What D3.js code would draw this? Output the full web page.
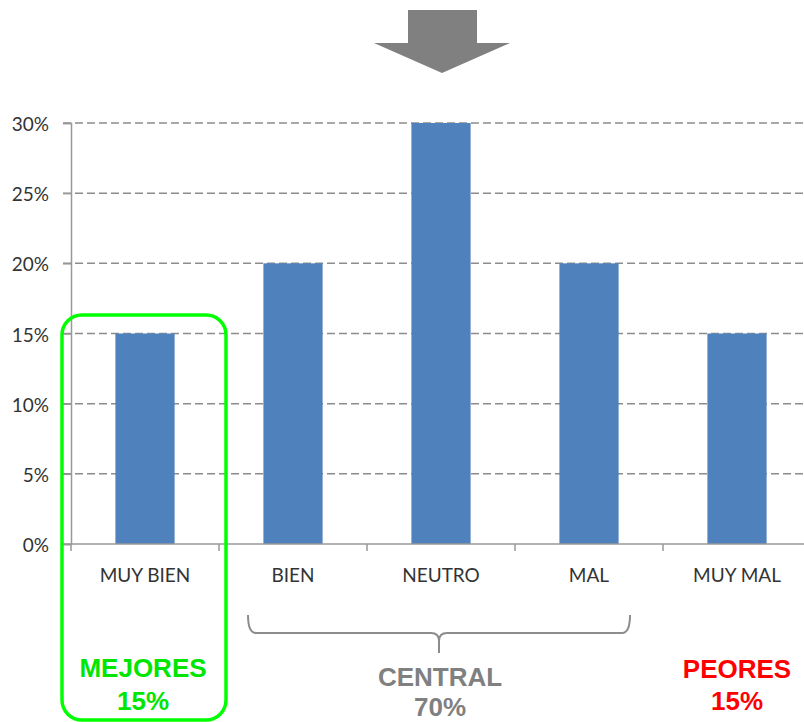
<!DOCTYPE html>
<html>
<head>
<meta charset="utf-8">
<script src="https://cdn.jsdelivr.net/npm/d3@7"></script>
<style>
  html, body { margin: 0; padding: 0; background: #fff; }
  svg { display: block; }
</style>
</head>
<body>
<svg id="chart" width="804" height="722"></svg>
<script>
// Distribution of answers by category (percent)
const categories = ["MUY BIEN", "BIEN", "NEUTRO", "MAL", "MUY MAL"];
const values = [15, 20, 30, 20, 15];
const yTicks = [0, 5, 10, 15, 20, 25, 30];

// Group summaries shown below the axis
const groupNames = ["MEJORES", "CENTRAL", "PEORES"];
const groupValues = [15, 70, 15];

const svg = d3.select("#chart");
const margin = { left: 71, top: 123 };
const bandW = 148;
const plotH = 421;

const x = d3.scaleBand()
  .domain(categories)
  .range([margin.left, margin.left + bandW * categories.length])
  .paddingInner(0).paddingOuter(0);

const y = d3.scaleLinear().domain([0, 30]).range([margin.top + plotH, margin.top]);

const barW = x.bandwidth() / 2.5;
const labelFont = "Lato, 'Open Sans', sans-serif";
const boldFont = "'Liberation Sans', Arial, sans-serif";

// Down arrow at the top
const ax = 442;
svg.append("path")
  .attr("d", `M${ax - 34},10 L${ax + 35},10 L${ax + 35},43 L${ax + 68},43 L${ax},73 L${ax - 68},43 L${ax - 34},43 Z`)
  .attr("fill", "#808080");

// Horizontal dashed gridlines
svg.append("g").selectAll("line")
  .data(yTicks.filter(d => d > 0))
  .join("line")
  .attr("x1", margin.left - 8)
  .attr("x2", 804)
  .attr("y1", d => y(d))
  .attr("y2", d => y(d))
  .attr("stroke", "#8c8c8c")
  .attr("stroke-width", 1.5)
  .attr("stroke-dasharray", "8,4");

// Bars
svg.append("g").selectAll("rect")
  .data(categories.map((c, i) => ({ c, v: values[i] })))
  .join("rect")
  .attr("x", d => x(d.c) + (x.bandwidth() - barW) / 2)
  .attr("y", d => y(d.v))
  .attr("width", barW)
  .attr("height", d => y(0) - y(d.v))
  .attr("fill", "#4f81bd");

// Y axis
const yAxis = d3.axisLeft(y)
  .tickValues(yTicks)
  .tickFormat(d => d + "%")
  .tickSize(8)
  .tickPadding(14);
const gy = svg.append("g")
  .attr("transform", `translate(${margin.left},0)`)
  .call(yAxis);
gy.select(".domain").attr("stroke", "#999").attr("stroke-width", 1.5);
gy.selectAll(".tick line").attr("stroke", "#999").attr("stroke-width", 1.5);
gy.selectAll(".tick text")
  .attr("font-family", labelFont)
  .attr("font-size", 19)
  .attr("fill", "#333")
  .attr("dy", "0.4em");

// X axis with ticks at category boundaries
const xAxisG = svg.append("g").attr("transform", `translate(0,${y(0)})`);
xAxisG.append("line")
  .attr("x1", margin.left - 8)
  .attr("x2", 804)
  .attr("stroke", "#999")
  .attr("stroke-width", 1.5);
const bounds = categories.map(c => x(c) + x.bandwidth());
xAxisG.selectAll("line.tk")
  .data(bounds)
  .join("line")
  .attr("class", "tk")
  .attr("x1", d => d).attr("x2", d => d)
  .attr("y1", 0).attr("y2", 7)
  .attr("stroke", "#999")
  .attr("stroke-width", 1.5);
xAxisG.append("line")
  .attr("x1", margin.left).attr("x2", margin.left)
  .attr("y1", 0).attr("y2", 7)
  .attr("stroke", "#999").attr("stroke-width", 1.5);
xAxisG.selectAll("text")
  .data(categories)
  .join("text")
  .attr("x", d => x(d) + x.bandwidth() / 2)
  .attr("y", 38)
  .attr("text-anchor", "middle")
  .attr("font-family", labelFont)
  .attr("font-size", 19)
  .attr("fill", "#333")
  .text(d => d);

// Green rounded frame around the first category
const bx0 = x(categories[0]) - 9;
const bx1 = x(categories[0]) + x.bandwidth() + 7;
svg.append("rect")
  .attr("x", bx0)
  .attr("y", 315)
  .attr("width", bx1 - bx0)
  .attr("height", 405)
  .attr("rx", 20)
  .attr("fill", "none")
  .attr("stroke", "#00ff00")
  .attr("stroke-width", 3.5);

// Brace spanning the three central categories
const b0 = x(categories[1]) + 29;
const b1 = x(categories[3]) + x.bandwidth() - 33;
const bm = x(categories[2]) + x.bandwidth() / 2 - 2;
const by = 633;
svg.append("path")
  .attr("d",
    `M${b0},615 Q${b0},${by} ${b0 + 8},${by} L${bm - 8},${by} Q${bm},${by} ${bm},${by + 8} L${bm},653 ` +
    `M${bm},${by + 8} Q${bm},${by} ${bm + 8},${by} L${b1 - 8},${by} Q${b1},${by} ${b1},615`)
  .attr("fill", "none")
  .attr("stroke", "#8c8c8c")
  .attr("stroke-width", 2);

// Group labels
const groupPos = [
  { cx: x(categories[0]) + x.bandwidth() / 2 - 2, y1: 677, y2: 710, color: "#00e600" },
  { cx: x(categories[2]) + x.bandwidth() / 2 - 1, y1: 686, y2: 716, color: "#808080" },
  { cx: x(categories[4]) + x.bandwidth() / 2, y1: 678, y2: 710, color: "#ff0000" }
];
groupNames.forEach((name, i) => {
  const p = groupPos[i];
  const t = svg.append("text")
    .attr("text-anchor", "middle")
    .attr("font-family", boldFont)
    .attr("font-weight", "bold")
    .attr("font-size", 26)
    .attr("fill", p.color);
  t.append("tspan").attr("x", p.cx).attr("y", p.y1).text(name);
  t.append("tspan").attr("x", p.cx).attr("y", p.y2).text(groupValues[i] + "%");
});
</script>
</body>
</html>
